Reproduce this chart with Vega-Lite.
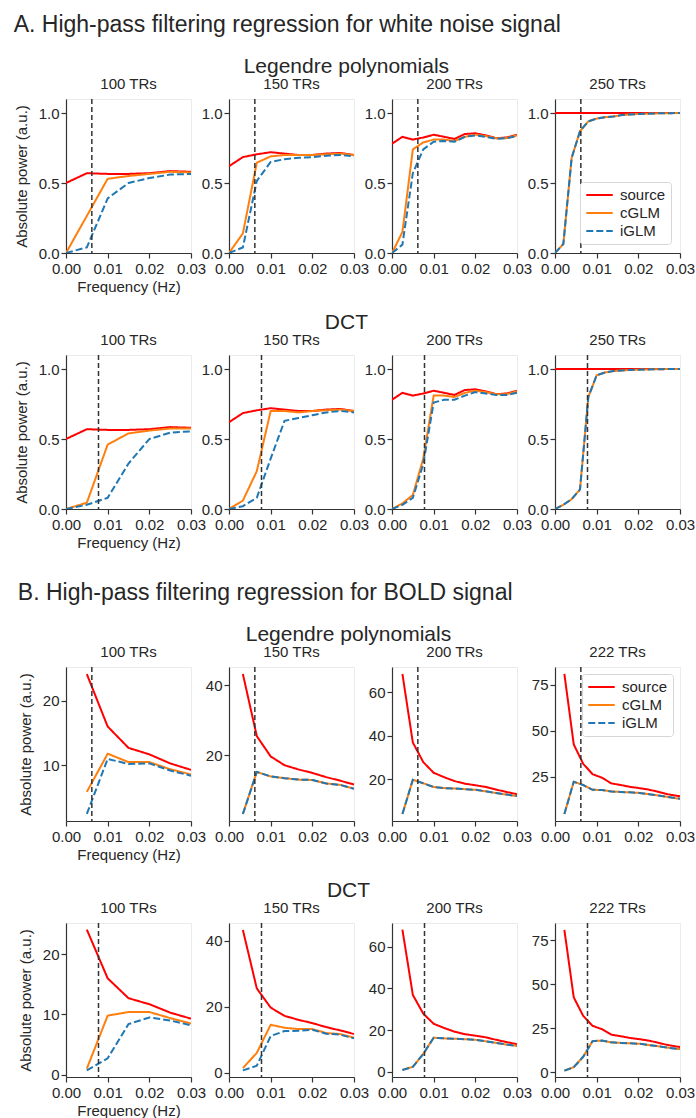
{
"$schema":"https://vega.github.io/schema/vega-lite/v6.json",
"padding":{"left":13,"top":13,"right":2,"bottom":0},
"background":"white",
"data":{"name":"pts"},
"datasets":{
"cut":[{"b":"L","c":0.0062},{"b":"D","c":0.0078}],
"pts":[
{"p":"a1","s":"source","f":0,"v":0.5},{"p":"a1","s":"source","f":0.005,"v":0.57},{"p":"a1","s":"source","f":0.01,"v":0.565},{"p":"a1","s":"source","f":0.015,"v":0.565},{"p":"a1","s":"source","f":0.02,"v":0.57},{"p":"a1","s":"source","f":0.025,"v":0.585},{"p":"a1","s":"source","f":0.03,"v":0.58},
{"p":"a1","s":"cGLM","f":0,"v":0},{"p":"a1","s":"cGLM","f":0.005,"v":0.265},{"p":"a1","s":"cGLM","f":0.01,"v":0.53},{"p":"a1","s":"cGLM","f":0.015,"v":0.55},{"p":"a1","s":"cGLM","f":0.02,"v":0.565},{"p":"a1","s":"cGLM","f":0.025,"v":0.58},{"p":"a1","s":"cGLM","f":0.03,"v":0.575},
{"p":"a1","s":"iGLM","f":0,"v":0},{"p":"a1","s":"iGLM","f":0.005,"v":0.04},{"p":"a1","s":"iGLM","f":0.01,"v":0.39},{"p":"a1","s":"iGLM","f":0.015,"v":0.5},{"p":"a1","s":"iGLM","f":0.02,"v":0.535},{"p":"a1","s":"iGLM","f":0.025,"v":0.56},{"p":"a1","s":"iGLM","f":0.03,"v":0.565},

{"p":"a2","s":"source","f":0,"v":0.62},{"p":"a2","s":"source","f":0.00333,"v":0.685},{"p":"a2","s":"source","f":0.00667,"v":0.705},{"p":"a2","s":"source","f":0.01,"v":0.72},{"p":"a2","s":"source","f":0.01333,"v":0.71},{"p":"a2","s":"source","f":0.01667,"v":0.7},{"p":"a2","s":"source","f":0.02,"v":0.7},{"p":"a2","s":"source","f":0.02333,"v":0.71},{"p":"a2","s":"source","f":0.02667,"v":0.715},{"p":"a2","s":"source","f":0.03,"v":0.7},
{"p":"a2","s":"cGLM","f":0,"v":0},{"p":"a2","s":"cGLM","f":0.00333,"v":0.14},{"p":"a2","s":"cGLM","f":0.00667,"v":0.645},{"p":"a2","s":"cGLM","f":0.01,"v":0.69},{"p":"a2","s":"cGLM","f":0.01333,"v":0.7},{"p":"a2","s":"cGLM","f":0.01667,"v":0.7},{"p":"a2","s":"cGLM","f":0.02,"v":0.7},{"p":"a2","s":"cGLM","f":0.02333,"v":0.705},{"p":"a2","s":"cGLM","f":0.02667,"v":0.71},{"p":"a2","s":"cGLM","f":0.03,"v":0.7},
{"p":"a2","s":"iGLM","f":0,"v":0},{"p":"a2","s":"iGLM","f":0.00333,"v":0.04},{"p":"a2","s":"iGLM","f":0.00667,"v":0.515},{"p":"a2","s":"iGLM","f":0.01,"v":0.65},{"p":"a2","s":"iGLM","f":0.01333,"v":0.67},{"p":"a2","s":"iGLM","f":0.01667,"v":0.68},{"p":"a2","s":"iGLM","f":0.02,"v":0.685},{"p":"a2","s":"iGLM","f":0.02333,"v":0.695},{"p":"a2","s":"iGLM","f":0.02667,"v":0.7},{"p":"a2","s":"iGLM","f":0.03,"v":0.69},

{"p":"a3","s":"source","f":0,"v":0.78},{"p":"a3","s":"source","f":0.0025,"v":0.83},{"p":"a3","s":"source","f":0.005,"v":0.81},{"p":"a3","s":"source","f":0.0075,"v":0.825},{"p":"a3","s":"source","f":0.01,"v":0.845},{"p":"a3","s":"source","f":0.0125,"v":0.83},{"p":"a3","s":"source","f":0.015,"v":0.815},{"p":"a3","s":"source","f":0.0175,"v":0.85},{"p":"a3","s":"source","f":0.02,"v":0.855},{"p":"a3","s":"source","f":0.0225,"v":0.84},{"p":"a3","s":"source","f":0.025,"v":0.82},{"p":"a3","s":"source","f":0.0275,"v":0.825},{"p":"a3","s":"source","f":0.03,"v":0.845},
{"p":"a3","s":"cGLM","f":0,"v":0},{"p":"a3","s":"cGLM","f":0.0025,"v":0.15},{"p":"a3","s":"cGLM","f":0.005,"v":0.74},{"p":"a3","s":"cGLM","f":0.0075,"v":0.79},{"p":"a3","s":"cGLM","f":0.01,"v":0.81},{"p":"a3","s":"cGLM","f":0.0125,"v":0.81},{"p":"a3","s":"cGLM","f":0.015,"v":0.8},{"p":"a3","s":"cGLM","f":0.0175,"v":0.83},{"p":"a3","s":"cGLM","f":0.02,"v":0.845},{"p":"a3","s":"cGLM","f":0.0225,"v":0.835},{"p":"a3","s":"cGLM","f":0.025,"v":0.82},{"p":"a3","s":"cGLM","f":0.0275,"v":0.82},{"p":"a3","s":"cGLM","f":0.03,"v":0.84},
{"p":"a3","s":"iGLM","f":0,"v":0},{"p":"a3","s":"iGLM","f":0.0025,"v":0.06},{"p":"a3","s":"iGLM","f":0.005,"v":0.57},{"p":"a3","s":"iGLM","f":0.0075,"v":0.74},{"p":"a3","s":"iGLM","f":0.01,"v":0.795},{"p":"a3","s":"iGLM","f":0.0125,"v":0.8},{"p":"a3","s":"iGLM","f":0.015,"v":0.795},{"p":"a3","s":"iGLM","f":0.0175,"v":0.83},{"p":"a3","s":"iGLM","f":0.02,"v":0.84},{"p":"a3","s":"iGLM","f":0.0225,"v":0.83},{"p":"a3","s":"iGLM","f":0.025,"v":0.815},{"p":"a3","s":"iGLM","f":0.0275,"v":0.82},{"p":"a3","s":"iGLM","f":0.03,"v":0.835},

{"p":"a4","s":"source","f":0,"v":1},{"p":"a4","s":"source","f":0.002,"v":1},{"p":"a4","s":"source","f":0.004,"v":1},{"p":"a4","s":"source","f":0.006,"v":1},{"p":"a4","s":"source","f":0.008,"v":1},{"p":"a4","s":"source","f":0.01,"v":1},{"p":"a4","s":"source","f":0.012,"v":1},{"p":"a4","s":"source","f":0.014,"v":1},{"p":"a4","s":"source","f":0.016,"v":1},{"p":"a4","s":"source","f":0.018,"v":1},{"p":"a4","s":"source","f":0.02,"v":1},{"p":"a4","s":"source","f":0.022,"v":1},{"p":"a4","s":"source","f":0.024,"v":1},{"p":"a4","s":"source","f":0.026,"v":1},{"p":"a4","s":"source","f":0.028,"v":1},{"p":"a4","s":"source","f":0.03,"v":1},
{"p":"a4","s":"cGLM","f":0,"v":0},{"p":"a4","s":"cGLM","f":0.002,"v":0.064},{"p":"a4","s":"cGLM","f":0.004,"v":0.68},{"p":"a4","s":"cGLM","f":0.006,"v":0.87},{"p":"a4","s":"cGLM","f":0.008,"v":0.94},{"p":"a4","s":"cGLM","f":0.01,"v":0.96},{"p":"a4","s":"cGLM","f":0.012,"v":0.97},{"p":"a4","s":"cGLM","f":0.014,"v":0.975},{"p":"a4","s":"cGLM","f":0.016,"v":0.985},{"p":"a4","s":"cGLM","f":0.018,"v":0.99},{"p":"a4","s":"cGLM","f":0.02,"v":0.993},{"p":"a4","s":"cGLM","f":0.022,"v":0.995},{"p":"a4","s":"cGLM","f":0.024,"v":0.997},{"p":"a4","s":"cGLM","f":0.026,"v":0.998},{"p":"a4","s":"cGLM","f":0.028,"v":0.999},{"p":"a4","s":"cGLM","f":0.03,"v":1},
{"p":"a4","s":"iGLM","f":0,"v":0},{"p":"a4","s":"iGLM","f":0.002,"v":0.064},{"p":"a4","s":"iGLM","f":0.004,"v":0.68},{"p":"a4","s":"iGLM","f":0.006,"v":0.87},{"p":"a4","s":"iGLM","f":0.008,"v":0.94},{"p":"a4","s":"iGLM","f":0.01,"v":0.96},{"p":"a4","s":"iGLM","f":0.012,"v":0.97},{"p":"a4","s":"iGLM","f":0.014,"v":0.975},{"p":"a4","s":"iGLM","f":0.016,"v":0.985},{"p":"a4","s":"iGLM","f":0.018,"v":0.99},{"p":"a4","s":"iGLM","f":0.02,"v":0.993},{"p":"a4","s":"iGLM","f":0.022,"v":0.995},{"p":"a4","s":"iGLM","f":0.024,"v":0.997},{"p":"a4","s":"iGLM","f":0.026,"v":0.998},{"p":"a4","s":"iGLM","f":0.028,"v":0.999},{"p":"a4","s":"iGLM","f":0.03,"v":1},

{"p":"b1","s":"source","f":0,"v":0.5},{"p":"b1","s":"source","f":0.005,"v":0.57},{"p":"b1","s":"source","f":0.01,"v":0.565},{"p":"b1","s":"source","f":0.015,"v":0.565},{"p":"b1","s":"source","f":0.02,"v":0.57},{"p":"b1","s":"source","f":0.025,"v":0.585},{"p":"b1","s":"source","f":0.03,"v":0.58},
{"p":"b1","s":"cGLM","f":0,"v":0},{"p":"b1","s":"cGLM","f":0.005,"v":0.045},{"p":"b1","s":"cGLM","f":0.01,"v":0.46},{"p":"b1","s":"cGLM","f":0.015,"v":0.54},{"p":"b1","s":"cGLM","f":0.02,"v":0.56},{"p":"b1","s":"cGLM","f":0.025,"v":0.575},{"p":"b1","s":"cGLM","f":0.03,"v":0.575},
{"p":"b1","s":"iGLM","f":0,"v":0},{"p":"b1","s":"iGLM","f":0.005,"v":0.03},{"p":"b1","s":"iGLM","f":0.01,"v":0.08},{"p":"b1","s":"iGLM","f":0.015,"v":0.325},{"p":"b1","s":"iGLM","f":0.02,"v":0.5},{"p":"b1","s":"iGLM","f":0.025,"v":0.545},{"p":"b1","s":"iGLM","f":0.03,"v":0.555},

{"p":"b2","s":"source","f":0,"v":0.62},{"p":"b2","s":"source","f":0.00333,"v":0.685},{"p":"b2","s":"source","f":0.00667,"v":0.705},{"p":"b2","s":"source","f":0.01,"v":0.72},{"p":"b2","s":"source","f":0.01333,"v":0.71},{"p":"b2","s":"source","f":0.01667,"v":0.7},{"p":"b2","s":"source","f":0.02,"v":0.7},{"p":"b2","s":"source","f":0.02333,"v":0.71},{"p":"b2","s":"source","f":0.02667,"v":0.715},{"p":"b2","s":"source","f":0.03,"v":0.7},
{"p":"b2","s":"cGLM","f":0,"v":0},{"p":"b2","s":"cGLM","f":0.00333,"v":0.06},{"p":"b2","s":"cGLM","f":0.00667,"v":0.27},{"p":"b2","s":"cGLM","f":0.01,"v":0.7},{"p":"b2","s":"cGLM","f":0.01333,"v":0.7},{"p":"b2","s":"cGLM","f":0.01667,"v":0.69},{"p":"b2","s":"cGLM","f":0.02,"v":0.7},{"p":"b2","s":"cGLM","f":0.02333,"v":0.705},{"p":"b2","s":"cGLM","f":0.02667,"v":0.71},{"p":"b2","s":"cGLM","f":0.03,"v":0.7},
{"p":"b2","s":"iGLM","f":0,"v":0},{"p":"b2","s":"iGLM","f":0.00333,"v":0.02},{"p":"b2","s":"iGLM","f":0.00667,"v":0.08},{"p":"b2","s":"iGLM","f":0.01,"v":0.36},{"p":"b2","s":"iGLM","f":0.01333,"v":0.63},{"p":"b2","s":"iGLM","f":0.01667,"v":0.65},{"p":"b2","s":"iGLM","f":0.02,"v":0.67},{"p":"b2","s":"iGLM","f":0.02333,"v":0.69},{"p":"b2","s":"iGLM","f":0.02667,"v":0.7},{"p":"b2","s":"iGLM","f":0.03,"v":0.69},

{"p":"b3","s":"source","f":0,"v":0.78},{"p":"b3","s":"source","f":0.0025,"v":0.83},{"p":"b3","s":"source","f":0.005,"v":0.81},{"p":"b3","s":"source","f":0.0075,"v":0.825},{"p":"b3","s":"source","f":0.01,"v":0.845},{"p":"b3","s":"source","f":0.0125,"v":0.83},{"p":"b3","s":"source","f":0.015,"v":0.815},{"p":"b3","s":"source","f":0.0175,"v":0.85},{"p":"b3","s":"source","f":0.02,"v":0.855},{"p":"b3","s":"source","f":0.0225,"v":0.84},{"p":"b3","s":"source","f":0.025,"v":0.82},{"p":"b3","s":"source","f":0.0275,"v":0.825},{"p":"b3","s":"source","f":0.03,"v":0.845},
{"p":"b3","s":"cGLM","f":0,"v":0},{"p":"b3","s":"cGLM","f":0.0025,"v":0.04},{"p":"b3","s":"cGLM","f":0.005,"v":0.1},{"p":"b3","s":"cGLM","f":0.0075,"v":0.36},{"p":"b3","s":"cGLM","f":0.01,"v":0.81},{"p":"b3","s":"cGLM","f":0.0125,"v":0.81},{"p":"b3","s":"cGLM","f":0.015,"v":0.8},{"p":"b3","s":"cGLM","f":0.0175,"v":0.83},{"p":"b3","s":"cGLM","f":0.02,"v":0.845},{"p":"b3","s":"cGLM","f":0.0225,"v":0.835},{"p":"b3","s":"cGLM","f":0.025,"v":0.82},{"p":"b3","s":"cGLM","f":0.0275,"v":0.82},{"p":"b3","s":"cGLM","f":0.03,"v":0.84},
{"p":"b3","s":"iGLM","f":0,"v":0},{"p":"b3","s":"iGLM","f":0.0025,"v":0.03},{"p":"b3","s":"iGLM","f":0.005,"v":0.08},{"p":"b3","s":"iGLM","f":0.0075,"v":0.32},{"p":"b3","s":"iGLM","f":0.01,"v":0.76},{"p":"b3","s":"iGLM","f":0.0125,"v":0.78},{"p":"b3","s":"iGLM","f":0.015,"v":0.78},{"p":"b3","s":"iGLM","f":0.0175,"v":0.81},{"p":"b3","s":"iGLM","f":0.02,"v":0.835},{"p":"b3","s":"iGLM","f":0.0225,"v":0.825},{"p":"b3","s":"iGLM","f":0.025,"v":0.815},{"p":"b3","s":"iGLM","f":0.0275,"v":0.815},{"p":"b3","s":"iGLM","f":0.03,"v":0.83},

{"p":"b4","s":"source","f":0,"v":1},{"p":"b4","s":"source","f":0.002,"v":1},{"p":"b4","s":"source","f":0.004,"v":1},{"p":"b4","s":"source","f":0.006,"v":1},{"p":"b4","s":"source","f":0.008,"v":1},{"p":"b4","s":"source","f":0.01,"v":1},{"p":"b4","s":"source","f":0.012,"v":1},{"p":"b4","s":"source","f":0.014,"v":1},{"p":"b4","s":"source","f":0.016,"v":1},{"p":"b4","s":"source","f":0.018,"v":1},{"p":"b4","s":"source","f":0.02,"v":1},{"p":"b4","s":"source","f":0.022,"v":1},{"p":"b4","s":"source","f":0.024,"v":1},{"p":"b4","s":"source","f":0.026,"v":1},{"p":"b4","s":"source","f":0.028,"v":1},{"p":"b4","s":"source","f":0.03,"v":1},
{"p":"b4","s":"cGLM","f":0,"v":0},{"p":"b4","s":"cGLM","f":0.002,"v":0.03},{"p":"b4","s":"cGLM","f":0.004,"v":0.07},{"p":"b4","s":"cGLM","f":0.006,"v":0.14},{"p":"b4","s":"cGLM","f":0.008,"v":0.8},{"p":"b4","s":"cGLM","f":0.01,"v":0.955},{"p":"b4","s":"cGLM","f":0.012,"v":0.975},{"p":"b4","s":"cGLM","f":0.014,"v":0.985},{"p":"b4","s":"cGLM","f":0.016,"v":0.99},{"p":"b4","s":"cGLM","f":0.018,"v":0.993},{"p":"b4","s":"cGLM","f":0.02,"v":0.995},{"p":"b4","s":"cGLM","f":0.022,"v":0.997},{"p":"b4","s":"cGLM","f":0.024,"v":0.998},{"p":"b4","s":"cGLM","f":0.026,"v":0.999},{"p":"b4","s":"cGLM","f":0.028,"v":1},{"p":"b4","s":"cGLM","f":0.03,"v":1},
{"p":"b4","s":"iGLM","f":0,"v":0},{"p":"b4","s":"iGLM","f":0.002,"v":0.03},{"p":"b4","s":"iGLM","f":0.004,"v":0.07},{"p":"b4","s":"iGLM","f":0.006,"v":0.14},{"p":"b4","s":"iGLM","f":0.008,"v":0.8},{"p":"b4","s":"iGLM","f":0.01,"v":0.955},{"p":"b4","s":"iGLM","f":0.012,"v":0.975},{"p":"b4","s":"iGLM","f":0.014,"v":0.985},{"p":"b4","s":"iGLM","f":0.016,"v":0.99},{"p":"b4","s":"iGLM","f":0.018,"v":0.993},{"p":"b4","s":"iGLM","f":0.02,"v":0.995},{"p":"b4","s":"iGLM","f":0.022,"v":0.997},{"p":"b4","s":"iGLM","f":0.024,"v":0.998},{"p":"b4","s":"iGLM","f":0.026,"v":0.999},{"p":"b4","s":"iGLM","f":0.028,"v":1},{"p":"b4","s":"iGLM","f":0.03,"v":1},

{"p":"c1","s":"source","f":0.005,"v":24.1},{"p":"c1","s":"source","f":0.01,"v":16},{"p":"c1","s":"source","f":0.015,"v":12.7},{"p":"c1","s":"source","f":0.02,"v":11.7},{"p":"c1","s":"source","f":0.025,"v":10.3},{"p":"c1","s":"source","f":0.03,"v":9.3},
{"p":"c1","s":"cGLM","f":0.005,"v":5.9},{"p":"c1","s":"cGLM","f":0.01,"v":11.8},{"p":"c1","s":"cGLM","f":0.015,"v":10.5},{"p":"c1","s":"cGLM","f":0.02,"v":10.5},{"p":"c1","s":"cGLM","f":0.025,"v":9.4},{"p":"c1","s":"cGLM","f":0.03,"v":8.6},
{"p":"c1","s":"iGLM","f":0.005,"v":2.5},{"p":"c1","s":"iGLM","f":0.01,"v":11},{"p":"c1","s":"iGLM","f":0.015,"v":10.2},{"p":"c1","s":"iGLM","f":0.02,"v":10.3},{"p":"c1","s":"iGLM","f":0.025,"v":9.2},{"p":"c1","s":"iGLM","f":0.03,"v":8.4},

{"p":"c2","s":"source","f":0.00333,"v":43.2},{"p":"c2","s":"source","f":0.00667,"v":25.5},{"p":"c2","s":"source","f":0.01,"v":19.7},{"p":"c2","s":"source","f":0.01333,"v":17.2},{"p":"c2","s":"source","f":0.01667,"v":16},{"p":"c2","s":"source","f":0.02,"v":15},{"p":"c2","s":"source","f":0.02333,"v":13.8},{"p":"c2","s":"source","f":0.02667,"v":12.8},{"p":"c2","s":"source","f":0.03,"v":11.7},
{"p":"c2","s":"cGLM","f":0.00333,"v":3.3},{"p":"c2","s":"cGLM","f":0.00667,"v":15.3},{"p":"c2","s":"cGLM","f":0.01,"v":14},{"p":"c2","s":"cGLM","f":0.01333,"v":13.5},{"p":"c2","s":"cGLM","f":0.01667,"v":13.1},{"p":"c2","s":"cGLM","f":0.02,"v":13},{"p":"c2","s":"cGLM","f":0.02333,"v":12},{"p":"c2","s":"cGLM","f":0.02667,"v":11.6},{"p":"c2","s":"cGLM","f":0.03,"v":10.5},
{"p":"c2","s":"iGLM","f":0.00333,"v":3.3},{"p":"c2","s":"iGLM","f":0.00667,"v":15.3},{"p":"c2","s":"iGLM","f":0.01,"v":14},{"p":"c2","s":"iGLM","f":0.01333,"v":13.5},{"p":"c2","s":"iGLM","f":0.01667,"v":13.1},{"p":"c2","s":"iGLM","f":0.02,"v":13},{"p":"c2","s":"iGLM","f":0.02333,"v":12},{"p":"c2","s":"iGLM","f":0.02667,"v":11.6},{"p":"c2","s":"iGLM","f":0.03,"v":10.5},

{"p":"c3","s":"source","f":0.0025,"v":68.3},{"p":"c3","s":"source","f":0.005,"v":36.9},{"p":"c3","s":"source","f":0.0075,"v":27.9},{"p":"c3","s":"source","f":0.01,"v":23},{"p":"c3","s":"source","f":0.0125,"v":21},{"p":"c3","s":"source","f":0.015,"v":19.2},{"p":"c3","s":"source","f":0.0175,"v":18},{"p":"c3","s":"source","f":0.02,"v":17.3},{"p":"c3","s":"source","f":0.0225,"v":16.5},{"p":"c3","s":"source","f":0.025,"v":15.3},{"p":"c3","s":"source","f":0.0275,"v":14.2},{"p":"c3","s":"source","f":0.03,"v":13.2},
{"p":"c3","s":"cGLM","f":0.0025,"v":4.1},{"p":"c3","s":"cGLM","f":0.005,"v":19.8},{"p":"c3","s":"cGLM","f":0.0075,"v":18.2},{"p":"c3","s":"cGLM","f":0.01,"v":16.5},{"p":"c3","s":"cGLM","f":0.0125,"v":16},{"p":"c3","s":"cGLM","f":0.015,"v":15.8},{"p":"c3","s":"cGLM","f":0.0175,"v":15.5},{"p":"c3","s":"cGLM","f":0.02,"v":15.2},{"p":"c3","s":"cGLM","f":0.0225,"v":14.5},{"p":"c3","s":"cGLM","f":0.025,"v":13.7},{"p":"c3","s":"cGLM","f":0.0275,"v":13},{"p":"c3","s":"cGLM","f":0.03,"v":12.3},
{"p":"c3","s":"iGLM","f":0.0025,"v":4.1},{"p":"c3","s":"iGLM","f":0.005,"v":19.8},{"p":"c3","s":"iGLM","f":0.0075,"v":18.2},{"p":"c3","s":"iGLM","f":0.01,"v":16.5},{"p":"c3","s":"iGLM","f":0.0125,"v":16},{"p":"c3","s":"iGLM","f":0.015,"v":15.8},{"p":"c3","s":"iGLM","f":0.0175,"v":15.5},{"p":"c3","s":"iGLM","f":0.02,"v":15.2},{"p":"c3","s":"iGLM","f":0.0225,"v":14.5},{"p":"c3","s":"iGLM","f":0.025,"v":13.7},{"p":"c3","s":"iGLM","f":0.0275,"v":13},{"p":"c3","s":"iGLM","f":0.03,"v":12.3},

{"p":"c4","s":"source","f":0.00225,"v":81},{"p":"c4","s":"source","f":0.0045,"v":42.6},{"p":"c4","s":"source","f":0.00676,"v":32.1},{"p":"c4","s":"source","f":0.00901,"v":26.4},{"p":"c4","s":"source","f":0.01126,"v":24.5},{"p":"c4","s":"source","f":0.01351,"v":21.4},{"p":"c4","s":"source","f":0.01577,"v":20.5},{"p":"c4","s":"source","f":0.01802,"v":19.5},{"p":"c4","s":"source","f":0.02027,"v":18.8},{"p":"c4","s":"source","f":0.02252,"v":18},{"p":"c4","s":"source","f":0.02477,"v":16.8},{"p":"c4","s":"source","f":0.02703,"v":15.5},{"p":"c4","s":"source","f":0.02928,"v":14.6},{"p":"c4","s":"source","f":0.03153,"v":14},
{"p":"c4","s":"cGLM","f":0.00225,"v":4.7},{"p":"c4","s":"cGLM","f":0.0045,"v":22.3},{"p":"c4","s":"cGLM","f":0.00676,"v":20.5},{"p":"c4","s":"cGLM","f":0.00901,"v":17.9},{"p":"c4","s":"cGLM","f":0.01126,"v":17.8},{"p":"c4","s":"cGLM","f":0.01351,"v":17},{"p":"c4","s":"cGLM","f":0.01577,"v":16.7},{"p":"c4","s":"cGLM","f":0.01802,"v":16.5},{"p":"c4","s":"cGLM","f":0.02027,"v":16.2},{"p":"c4","s":"cGLM","f":0.02252,"v":15.5},{"p":"c4","s":"cGLM","f":0.02477,"v":14.8},{"p":"c4","s":"cGLM","f":0.02703,"v":14},{"p":"c4","s":"cGLM","f":0.02928,"v":13.2},{"p":"c4","s":"cGLM","f":0.03153,"v":12.8},
{"p":"c4","s":"iGLM","f":0.00225,"v":4.7},{"p":"c4","s":"iGLM","f":0.0045,"v":22.3},{"p":"c4","s":"iGLM","f":0.00676,"v":20.5},{"p":"c4","s":"iGLM","f":0.00901,"v":17.9},{"p":"c4","s":"iGLM","f":0.01126,"v":17.8},{"p":"c4","s":"iGLM","f":0.01351,"v":17},{"p":"c4","s":"iGLM","f":0.01577,"v":16.7},{"p":"c4","s":"iGLM","f":0.01802,"v":16.5},{"p":"c4","s":"iGLM","f":0.02027,"v":16.2},{"p":"c4","s":"iGLM","f":0.02252,"v":15.5},{"p":"c4","s":"iGLM","f":0.02477,"v":14.8},{"p":"c4","s":"iGLM","f":0.02703,"v":14},{"p":"c4","s":"iGLM","f":0.02928,"v":13.2},{"p":"c4","s":"iGLM","f":0.03153,"v":12.8},

{"p":"d1","s":"source","f":0.005,"v":24.1},{"p":"d1","s":"source","f":0.01,"v":16},{"p":"d1","s":"source","f":0.015,"v":12.7},{"p":"d1","s":"source","f":0.02,"v":11.7},{"p":"d1","s":"source","f":0.025,"v":10.3},{"p":"d1","s":"source","f":0.03,"v":9.3},
{"p":"d1","s":"cGLM","f":0.005,"v":1},{"p":"d1","s":"cGLM","f":0.01,"v":9.8},{"p":"d1","s":"cGLM","f":0.015,"v":10.4},{"p":"d1","s":"cGLM","f":0.02,"v":10.4},{"p":"d1","s":"cGLM","f":0.025,"v":9.4},{"p":"d1","s":"cGLM","f":0.03,"v":8.5},
{"p":"d1","s":"iGLM","f":0.005,"v":0.7},{"p":"d1","s":"iGLM","f":0.01,"v":2.7},{"p":"d1","s":"iGLM","f":0.015,"v":8.4},{"p":"d1","s":"iGLM","f":0.02,"v":9.5},{"p":"d1","s":"iGLM","f":0.025,"v":9},{"p":"d1","s":"iGLM","f":0.03,"v":8.2},

{"p":"d2","s":"source","f":0.00333,"v":43.2},{"p":"d2","s":"source","f":0.00667,"v":25.5},{"p":"d2","s":"source","f":0.01,"v":19.7},{"p":"d2","s":"source","f":0.01333,"v":17.2},{"p":"d2","s":"source","f":0.01667,"v":16},{"p":"d2","s":"source","f":0.02,"v":15},{"p":"d2","s":"source","f":0.02333,"v":13.8},{"p":"d2","s":"source","f":0.02667,"v":12.8},{"p":"d2","s":"source","f":0.03,"v":11.7},
{"p":"d2","s":"cGLM","f":0.00333,"v":1.4},{"p":"d2","s":"cGLM","f":0.00667,"v":6},{"p":"d2","s":"cGLM","f":0.01,"v":14.5},{"p":"d2","s":"cGLM","f":0.01333,"v":13.6},{"p":"d2","s":"cGLM","f":0.01667,"v":13.2},{"p":"d2","s":"cGLM","f":0.02,"v":13.2},{"p":"d2","s":"cGLM","f":0.02333,"v":12},{"p":"d2","s":"cGLM","f":0.02667,"v":11.7},{"p":"d2","s":"cGLM","f":0.03,"v":10.6},
{"p":"d2","s":"iGLM","f":0.00333,"v":0.7},{"p":"d2","s":"iGLM","f":0.00667,"v":2.1},{"p":"d2","s":"iGLM","f":0.01,"v":11.1},{"p":"d2","s":"iGLM","f":0.01333,"v":12.6},{"p":"d2","s":"iGLM","f":0.01667,"v":12.7},{"p":"d2","s":"iGLM","f":0.02,"v":13},{"p":"d2","s":"iGLM","f":0.02333,"v":11.8},{"p":"d2","s":"iGLM","f":0.02667,"v":11.5},{"p":"d2","s":"iGLM","f":0.03,"v":10.4},

{"p":"d3","s":"source","f":0.0025,"v":68.3},{"p":"d3","s":"source","f":0.005,"v":36.9},{"p":"d3","s":"source","f":0.0075,"v":27.9},{"p":"d3","s":"source","f":0.01,"v":23},{"p":"d3","s":"source","f":0.0125,"v":21},{"p":"d3","s":"source","f":0.015,"v":19.2},{"p":"d3","s":"source","f":0.0175,"v":18},{"p":"d3","s":"source","f":0.02,"v":17.3},{"p":"d3","s":"source","f":0.0225,"v":16.5},{"p":"d3","s":"source","f":0.025,"v":15.3},{"p":"d3","s":"source","f":0.0275,"v":14.2},{"p":"d3","s":"source","f":0.03,"v":13.2},
{"p":"d3","s":"cGLM","f":0.0025,"v":0.8},{"p":"d3","s":"cGLM","f":0.005,"v":2.3},{"p":"d3","s":"cGLM","f":0.0075,"v":8.5},{"p":"d3","s":"cGLM","f":0.01,"v":16.3},{"p":"d3","s":"cGLM","f":0.0125,"v":16},{"p":"d3","s":"cGLM","f":0.015,"v":15.8},{"p":"d3","s":"cGLM","f":0.0175,"v":15.6},{"p":"d3","s":"cGLM","f":0.02,"v":15.3},{"p":"d3","s":"cGLM","f":0.0225,"v":14.6},{"p":"d3","s":"cGLM","f":0.025,"v":13.8},{"p":"d3","s":"cGLM","f":0.0275,"v":13},{"p":"d3","s":"cGLM","f":0.03,"v":12.4},
{"p":"d3","s":"iGLM","f":0.0025,"v":0.8},{"p":"d3","s":"iGLM","f":0.005,"v":2.3},{"p":"d3","s":"iGLM","f":0.0075,"v":8.5},{"p":"d3","s":"iGLM","f":0.01,"v":16.3},{"p":"d3","s":"iGLM","f":0.0125,"v":16},{"p":"d3","s":"iGLM","f":0.015,"v":15.8},{"p":"d3","s":"iGLM","f":0.0175,"v":15.6},{"p":"d3","s":"iGLM","f":0.02,"v":15.3},{"p":"d3","s":"iGLM","f":0.0225,"v":14.6},{"p":"d3","s":"iGLM","f":0.025,"v":13.8},{"p":"d3","s":"iGLM","f":0.0275,"v":13},{"p":"d3","s":"iGLM","f":0.03,"v":12.4},

{"p":"d4","s":"source","f":0.00225,"v":81},{"p":"d4","s":"source","f":0.0045,"v":42.6},{"p":"d4","s":"source","f":0.00676,"v":32.1},{"p":"d4","s":"source","f":0.00901,"v":26.4},{"p":"d4","s":"source","f":0.01126,"v":24.5},{"p":"d4","s":"source","f":0.01351,"v":21.4},{"p":"d4","s":"source","f":0.01577,"v":20.5},{"p":"d4","s":"source","f":0.01802,"v":19.5},{"p":"d4","s":"source","f":0.02027,"v":18.8},{"p":"d4","s":"source","f":0.02252,"v":18},{"p":"d4","s":"source","f":0.02477,"v":16.8},{"p":"d4","s":"source","f":0.02703,"v":15.5},{"p":"d4","s":"source","f":0.02928,"v":14.6},{"p":"d4","s":"source","f":0.03153,"v":14},
{"p":"d4","s":"cGLM","f":0.00225,"v":0.9},{"p":"d4","s":"cGLM","f":0.0045,"v":2.9},{"p":"d4","s":"cGLM","f":0.00676,"v":8.8},{"p":"d4","s":"cGLM","f":0.00901,"v":17.7},{"p":"d4","s":"cGLM","f":0.01126,"v":18},{"p":"d4","s":"cGLM","f":0.01351,"v":17},{"p":"d4","s":"cGLM","f":0.01577,"v":16.7},{"p":"d4","s":"cGLM","f":0.01802,"v":16.5},{"p":"d4","s":"cGLM","f":0.02027,"v":16.2},{"p":"d4","s":"cGLM","f":0.02252,"v":15.5},{"p":"d4","s":"cGLM","f":0.02477,"v":14.8},{"p":"d4","s":"cGLM","f":0.02703,"v":14},{"p":"d4","s":"cGLM","f":0.02928,"v":13.3},{"p":"d4","s":"cGLM","f":0.03153,"v":12.9},
{"p":"d4","s":"iGLM","f":0.00225,"v":0.9},{"p":"d4","s":"iGLM","f":0.0045,"v":2.9},{"p":"d4","s":"iGLM","f":0.00676,"v":8.8},{"p":"d4","s":"iGLM","f":0.00901,"v":17.7},{"p":"d4","s":"iGLM","f":0.01126,"v":18},{"p":"d4","s":"iGLM","f":0.01351,"v":17},{"p":"d4","s":"iGLM","f":0.01577,"v":16.7},{"p":"d4","s":"iGLM","f":0.01802,"v":16.5},{"p":"d4","s":"iGLM","f":0.02027,"v":16.2},{"p":"d4","s":"iGLM","f":0.02252,"v":15.5},{"p":"d4","s":"iGLM","f":0.02477,"v":14.8},{"p":"d4","s":"iGLM","f":0.02703,"v":14},{"p":"d4","s":"iGLM","f":0.02928,"v":13.3},{"p":"d4","s":"iGLM","f":0.03153,"v":12.9}
]},
"spacing":30,
"resolve":{"scale":{"color":"independent","strokeDash":"independent"}},
"vconcat":[
{"title":{"text":"A. High-pass filtering regression for white noise signal","anchor":"start","fontSize":23,"offset":19},
 "spacing":16,
 "resolve":{"scale":{"color":"independent","strokeDash":"independent"}},
 "vconcat":[
 {"title":{"text":"Legendre polynomials","anchor":"middle","fontSize":21,"offset":0,"dx":-8},"spacing":38,"bounds":"flush",
  "resolve":{"scale":{"color":"independent","strokeDash":"independent"}},
  "hconcat":[
   {"width":125,"height":154,"title":"100 TRs","layer":[
    {"transform":[{"filter":"datum.p==='a1'"}],"mark":{"type":"line","strokeWidth":2,"clip":true},"encoding":{
     "x":{"field":"f","type":"quantitative","scale":{"domain":[0,0.03],"nice":false},"axis":{"values":[0,0.01,0.02,0.03],"format":".2f","title":"Frequency (Hz)"}},
     "y":{"field":"v","type":"quantitative","scale":{"domain":[0,1.1],"nice":false,"zero":false},"axis":{"values":[0,0.5,1],"format":".1f","title":"Absolute power (a.u.)"}},
     "color":{"field":"s","type":"nominal","scale":{"domain":["source","cGLM","iGLM"],"range":["#ff0000","#ff7f0e","#1f77b4"]},"legend":null},
     "strokeDash":{"field":"s","type":"nominal","scale":{"domain":["source","cGLM","iGLM"],"range":[[1,0],[1,0],[7,3]]},"legend":null}}},
    {"data":{"name":"cut"},"transform":[{"filter":"datum.b==='L'"}],"mark":{"type":"rule","color":"#333333","strokeWidth":1.5,"strokeDash":[5,3]},"encoding":{"x":{"field":"c","type":"quantitative"}}}]},
   {"width":125,"height":154,"title":"150 TRs","layer":[
    {"transform":[{"filter":"datum.p==='a2'"}],"mark":{"type":"line","strokeWidth":2,"clip":true},"encoding":{
     "x":{"field":"f","type":"quantitative","scale":{"domain":[0,0.03],"nice":false},"axis":{"values":[0,0.01,0.02,0.03],"format":".2f","title":null}},
     "y":{"field":"v","type":"quantitative","scale":{"domain":[0,1.1],"nice":false,"zero":false},"axis":{"values":[0,0.5,1],"format":".1f","title":null}},
     "color":{"field":"s","type":"nominal","scale":{"domain":["source","cGLM","iGLM"],"range":["#ff0000","#ff7f0e","#1f77b4"]},"legend":null},
     "strokeDash":{"field":"s","type":"nominal","scale":{"domain":["source","cGLM","iGLM"],"range":[[1,0],[1,0],[7,3]]},"legend":null}}},
    {"data":{"name":"cut"},"transform":[{"filter":"datum.b==='L'"}],"mark":{"type":"rule","color":"#333333","strokeWidth":1.5,"strokeDash":[5,3]},"encoding":{"x":{"field":"c","type":"quantitative"}}}]},
   {"width":125,"height":154,"title":"200 TRs","layer":[
    {"transform":[{"filter":"datum.p==='a3'"}],"mark":{"type":"line","strokeWidth":2,"clip":true},"encoding":{
     "x":{"field":"f","type":"quantitative","scale":{"domain":[0,0.03],"nice":false},"axis":{"values":[0,0.01,0.02,0.03],"format":".2f","title":null}},
     "y":{"field":"v","type":"quantitative","scale":{"domain":[0,1.1],"nice":false,"zero":false},"axis":{"values":[0,0.5,1],"format":".1f","title":null}},
     "color":{"field":"s","type":"nominal","scale":{"domain":["source","cGLM","iGLM"],"range":["#ff0000","#ff7f0e","#1f77b4"]},"legend":null},
     "strokeDash":{"field":"s","type":"nominal","scale":{"domain":["source","cGLM","iGLM"],"range":[[1,0],[1,0],[7,3]]},"legend":null}}},
    {"data":{"name":"cut"},"transform":[{"filter":"datum.b==='L'"}],"mark":{"type":"rule","color":"#333333","strokeWidth":1.5,"strokeDash":[5,3]},"encoding":{"x":{"field":"c","type":"quantitative"}}}]},
   {"width":125,"height":154,"title":"250 TRs","layer":[
    {"transform":[{"filter":"datum.p==='a4'"}],"mark":{"type":"line","strokeWidth":2,"clip":true},"encoding":{
     "x":{"field":"f","type":"quantitative","scale":{"domain":[0,0.03],"nice":false},"axis":{"values":[0,0.01,0.02,0.03],"format":".2f","title":null}},
     "y":{"field":"v","type":"quantitative","scale":{"domain":[0,1.1],"nice":false,"zero":false},"axis":{"values":[0,0.5,1],"format":".1f","title":null}},
     "color":{"field":"s","type":"nominal","scale":{"domain":["source","cGLM","iGLM"],"range":["#ff0000","#ff7f0e","#1f77b4"]},"legend":{"orient":"bottom-right","offset":9}},
     "strokeDash":{"field":"s","type":"nominal","scale":{"domain":["source","cGLM","iGLM"],"range":[[1,0],[1,0],[7,3]]},"legend":{"orient":"bottom-right","offset":9}}}},
    {"data":{"name":"cut"},"transform":[{"filter":"datum.b==='L'"}],"mark":{"type":"rule","color":"#333333","strokeWidth":1.5,"strokeDash":[5,3]},"encoding":{"x":{"field":"c","type":"quantitative"}}}]}
  ]},
 {"title":{"text":"DCT","anchor":"middle","fontSize":21,"offset":0,"dx":-8},"spacing":38,"bounds":"flush",
  "resolve":{"scale":{"color":"independent","strokeDash":"independent"}},
  "hconcat":[
   {"width":125,"height":154,"title":"100 TRs","layer":[
    {"transform":[{"filter":"datum.p==='b1'"}],"mark":{"type":"line","strokeWidth":2,"clip":true},"encoding":{
     "x":{"field":"f","type":"quantitative","scale":{"domain":[0,0.03],"nice":false},"axis":{"values":[0,0.01,0.02,0.03],"format":".2f","title":"Frequency (Hz)"}},
     "y":{"field":"v","type":"quantitative","scale":{"domain":[0,1.1],"nice":false,"zero":false},"axis":{"values":[0,0.5,1],"format":".1f","title":"Absolute power (a.u.)"}},
     "color":{"field":"s","type":"nominal","scale":{"domain":["source","cGLM","iGLM"],"range":["#ff0000","#ff7f0e","#1f77b4"]},"legend":null},
     "strokeDash":{"field":"s","type":"nominal","scale":{"domain":["source","cGLM","iGLM"],"range":[[1,0],[1,0],[7,3]]},"legend":null}}},
    {"data":{"name":"cut"},"transform":[{"filter":"datum.b==='D'"}],"mark":{"type":"rule","color":"#333333","strokeWidth":1.5,"strokeDash":[5,3]},"encoding":{"x":{"field":"c","type":"quantitative"}}}]},
   {"width":125,"height":154,"title":"150 TRs","layer":[
    {"transform":[{"filter":"datum.p==='b2'"}],"mark":{"type":"line","strokeWidth":2,"clip":true},"encoding":{
     "x":{"field":"f","type":"quantitative","scale":{"domain":[0,0.03],"nice":false},"axis":{"values":[0,0.01,0.02,0.03],"format":".2f","title":null}},
     "y":{"field":"v","type":"quantitative","scale":{"domain":[0,1.1],"nice":false,"zero":false},"axis":{"values":[0,0.5,1],"format":".1f","title":null}},
     "color":{"field":"s","type":"nominal","scale":{"domain":["source","cGLM","iGLM"],"range":["#ff0000","#ff7f0e","#1f77b4"]},"legend":null},
     "strokeDash":{"field":"s","type":"nominal","scale":{"domain":["source","cGLM","iGLM"],"range":[[1,0],[1,0],[7,3]]},"legend":null}}},
    {"data":{"name":"cut"},"transform":[{"filter":"datum.b==='D'"}],"mark":{"type":"rule","color":"#333333","strokeWidth":1.5,"strokeDash":[5,3]},"encoding":{"x":{"field":"c","type":"quantitative"}}}]},
   {"width":125,"height":154,"title":"200 TRs","layer":[
    {"transform":[{"filter":"datum.p==='b3'"}],"mark":{"type":"line","strokeWidth":2,"clip":true},"encoding":{
     "x":{"field":"f","type":"quantitative","scale":{"domain":[0,0.03],"nice":false},"axis":{"values":[0,0.01,0.02,0.03],"format":".2f","title":null}},
     "y":{"field":"v","type":"quantitative","scale":{"domain":[0,1.1],"nice":false,"zero":false},"axis":{"values":[0,0.5,1],"format":".1f","title":null}},
     "color":{"field":"s","type":"nominal","scale":{"domain":["source","cGLM","iGLM"],"range":["#ff0000","#ff7f0e","#1f77b4"]},"legend":null},
     "strokeDash":{"field":"s","type":"nominal","scale":{"domain":["source","cGLM","iGLM"],"range":[[1,0],[1,0],[7,3]]},"legend":null}}},
    {"data":{"name":"cut"},"transform":[{"filter":"datum.b==='D'"}],"mark":{"type":"rule","color":"#333333","strokeWidth":1.5,"strokeDash":[5,3]},"encoding":{"x":{"field":"c","type":"quantitative"}}}]},
   {"width":125,"height":154,"title":"250 TRs","layer":[
    {"transform":[{"filter":"datum.p==='b4'"}],"mark":{"type":"line","strokeWidth":2,"clip":true},"encoding":{
     "x":{"field":"f","type":"quantitative","scale":{"domain":[0,0.03],"nice":false},"axis":{"values":[0,0.01,0.02,0.03],"format":".2f","title":null}},
     "y":{"field":"v","type":"quantitative","scale":{"domain":[0,1.1],"nice":false,"zero":false},"axis":{"values":[0,0.5,1],"format":".1f","title":null}},
     "color":{"field":"s","type":"nominal","scale":{"domain":["source","cGLM","iGLM"],"range":["#ff0000","#ff7f0e","#1f77b4"]},"legend":null},
     "strokeDash":{"field":"s","type":"nominal","scale":{"domain":["source","cGLM","iGLM"],"range":[[1,0],[1,0],[7,3]]},"legend":null}}},
    {"data":{"name":"cut"},"transform":[{"filter":"datum.b==='D'"}],"mark":{"type":"rule","color":"#333333","strokeWidth":1.5,"strokeDash":[5,3]},"encoding":{"x":{"field":"c","type":"quantitative"}}}]}
  ]}
 ]},
{"title":{"text":"B. High-pass filtering regression for BOLD signal","anchor":"start","fontSize":23,"offset":19},
 "spacing":16,
 "resolve":{"scale":{"color":"independent","strokeDash":"independent"}},
 "vconcat":[
 {"title":{"text":"Legendre polynomials","anchor":"middle","fontSize":21,"offset":0,"dx":-8},"spacing":38,"bounds":"flush",
  "resolve":{"scale":{"color":"independent","strokeDash":"independent"}},
  "hconcat":[
   {"width":125,"height":154,"title":"100 TRs","layer":[
    {"transform":[{"filter":"datum.p==='c1'"}],"mark":{"type":"line","strokeWidth":2,"clip":true},"encoding":{
     "x":{"field":"f","type":"quantitative","scale":{"domain":[0,0.03],"nice":false},"axis":{"values":[0,0.01,0.02,0.03],"format":".2f","title":"Frequency (Hz)"}},
     "y":{"field":"v","type":"quantitative","scale":{"domain":[1.4,25.2],"nice":false,"zero":false},"axis":{"values":[10,20],"format":"d","title":"Absolute power (a.u.)"}},
     "color":{"field":"s","type":"nominal","scale":{"domain":["source","cGLM","iGLM"],"range":["#ff0000","#ff7f0e","#1f77b4"]},"legend":null},
     "strokeDash":{"field":"s","type":"nominal","scale":{"domain":["source","cGLM","iGLM"],"range":[[1,0],[1,0],[7,3]]},"legend":null}}},
    {"data":{"name":"cut"},"transform":[{"filter":"datum.b==='L'"}],"mark":{"type":"rule","color":"#333333","strokeWidth":1.5,"strokeDash":[5,3]},"encoding":{"x":{"field":"c","type":"quantitative"}}}]},
   {"width":125,"height":154,"title":"150 TRs","layer":[
    {"transform":[{"filter":"datum.p==='c2'"}],"mark":{"type":"line","strokeWidth":2,"clip":true},"encoding":{
     "x":{"field":"f","type":"quantitative","scale":{"domain":[0,0.03],"nice":false},"axis":{"values":[0,0.01,0.02,0.03],"format":".2f","title":null}},
     "y":{"field":"v","type":"quantitative","scale":{"domain":[1.3,45.2],"nice":false,"zero":false},"axis":{"values":[20,40],"format":"d","title":null}},
     "color":{"field":"s","type":"nominal","scale":{"domain":["source","cGLM","iGLM"],"range":["#ff0000","#ff7f0e","#1f77b4"]},"legend":null},
     "strokeDash":{"field":"s","type":"nominal","scale":{"domain":["source","cGLM","iGLM"],"range":[[1,0],[1,0],[7,3]]},"legend":null}}},
    {"data":{"name":"cut"},"transform":[{"filter":"datum.b==='L'"}],"mark":{"type":"rule","color":"#333333","strokeWidth":1.5,"strokeDash":[5,3]},"encoding":{"x":{"field":"c","type":"quantitative"}}}]},
   {"width":125,"height":154,"title":"200 TRs","layer":[
    {"transform":[{"filter":"datum.p==='c3'"}],"mark":{"type":"line","strokeWidth":2,"clip":true},"encoding":{
     "x":{"field":"f","type":"quantitative","scale":{"domain":[0,0.03],"nice":false},"axis":{"values":[0,0.01,0.02,0.03],"format":".2f","title":null}},
     "y":{"field":"v","type":"quantitative","scale":{"domain":[0.9,71.5],"nice":false,"zero":false},"axis":{"values":[20,40,60],"format":"d","title":null}},
     "color":{"field":"s","type":"nominal","scale":{"domain":["source","cGLM","iGLM"],"range":["#ff0000","#ff7f0e","#1f77b4"]},"legend":null},
     "strokeDash":{"field":"s","type":"nominal","scale":{"domain":["source","cGLM","iGLM"],"range":[[1,0],[1,0],[7,3]]},"legend":null}}},
    {"data":{"name":"cut"},"transform":[{"filter":"datum.b==='L'"}],"mark":{"type":"rule","color":"#333333","strokeWidth":1.5,"strokeDash":[5,3]},"encoding":{"x":{"field":"c","type":"quantitative"}}}]},
   {"width":125,"height":154,"title":"222 TRs","layer":[
    {"transform":[{"filter":"datum.p==='c4'"}],"mark":{"type":"line","strokeWidth":2,"clip":true},"encoding":{
     "x":{"field":"f","type":"quantitative","scale":{"domain":[0,0.03],"nice":false},"axis":{"values":[0,0.01,0.02,0.03],"format":".2f","title":null}},
     "y":{"field":"v","type":"quantitative","scale":{"domain":[0.9,84.8],"nice":false,"zero":false},"axis":{"values":[25,50,75],"format":"d","title":null}},
     "color":{"field":"s","type":"nominal","scale":{"domain":["source","cGLM","iGLM"],"range":["#ff0000","#ff7f0e","#1f77b4"]},"legend":{"orient":"top-right","offset":7}},
     "strokeDash":{"field":"s","type":"nominal","scale":{"domain":["source","cGLM","iGLM"],"range":[[1,0],[1,0],[7,3]]},"legend":{"orient":"top-right","offset":7}}}},
    {"data":{"name":"cut"},"transform":[{"filter":"datum.b==='L'"}],"mark":{"type":"rule","color":"#333333","strokeWidth":1.5,"strokeDash":[5,3]},"encoding":{"x":{"field":"c","type":"quantitative"}}}]}
  ]},
 {"title":{"text":"DCT","anchor":"middle","fontSize":21,"offset":0,"dx":-8},"spacing":38,"bounds":"flush",
  "resolve":{"scale":{"color":"independent","strokeDash":"independent"}},
  "hconcat":[
   {"width":125,"height":154,"title":"100 TRs","layer":[
    {"transform":[{"filter":"datum.p==='d1'"}],"mark":{"type":"line","strokeWidth":2,"clip":true},"encoding":{
     "x":{"field":"f","type":"quantitative","scale":{"domain":[0,0.03],"nice":false},"axis":{"values":[0,0.01,0.02,0.03],"format":".2f","title":"Frequency (Hz)"}},
     "y":{"field":"v","type":"quantitative","scale":{"domain":[-0.4,25.2],"nice":false,"zero":false},"axis":{"values":[0,10,20],"format":"d","title":"Absolute power (a.u.)"}},
     "color":{"field":"s","type":"nominal","scale":{"domain":["source","cGLM","iGLM"],"range":["#ff0000","#ff7f0e","#1f77b4"]},"legend":null},
     "strokeDash":{"field":"s","type":"nominal","scale":{"domain":["source","cGLM","iGLM"],"range":[[1,0],[1,0],[7,3]]},"legend":null}}},
    {"data":{"name":"cut"},"transform":[{"filter":"datum.b==='D'"}],"mark":{"type":"rule","color":"#333333","strokeWidth":1.5,"strokeDash":[5,3]},"encoding":{"x":{"field":"c","type":"quantitative"}}}]},
   {"width":125,"height":154,"title":"150 TRs","layer":[
    {"transform":[{"filter":"datum.p==='d2'"}],"mark":{"type":"line","strokeWidth":2,"clip":true},"encoding":{
     "x":{"field":"f","type":"quantitative","scale":{"domain":[0,0.03],"nice":false},"axis":{"values":[0,0.01,0.02,0.03],"format":".2f","title":null}},
     "y":{"field":"v","type":"quantitative","scale":{"domain":[-1.3,45.3],"nice":false,"zero":false},"axis":{"values":[0,20,40],"format":"d","title":null}},
     "color":{"field":"s","type":"nominal","scale":{"domain":["source","cGLM","iGLM"],"range":["#ff0000","#ff7f0e","#1f77b4"]},"legend":null},
     "strokeDash":{"field":"s","type":"nominal","scale":{"domain":["source","cGLM","iGLM"],"range":[[1,0],[1,0],[7,3]]},"legend":null}}},
    {"data":{"name":"cut"},"transform":[{"filter":"datum.b==='D'"}],"mark":{"type":"rule","color":"#333333","strokeWidth":1.5,"strokeDash":[5,3]},"encoding":{"x":{"field":"c","type":"quantitative"}}}]},
   {"width":125,"height":154,"title":"200 TRs","layer":[
    {"transform":[{"filter":"datum.p==='d3'"}],"mark":{"type":"line","strokeWidth":2,"clip":true},"encoding":{
     "x":{"field":"f","type":"quantitative","scale":{"domain":[0,0.03],"nice":false},"axis":{"values":[0,0.01,0.02,0.03],"format":".2f","title":null}},
     "y":{"field":"v","type":"quantitative","scale":{"domain":[-2.6,71.5],"nice":false,"zero":false},"axis":{"values":[0,20,40,60],"format":"d","title":null}},
     "color":{"field":"s","type":"nominal","scale":{"domain":["source","cGLM","iGLM"],"range":["#ff0000","#ff7f0e","#1f77b4"]},"legend":null},
     "strokeDash":{"field":"s","type":"nominal","scale":{"domain":["source","cGLM","iGLM"],"range":[[1,0],[1,0],[7,3]]},"legend":null}}},
    {"data":{"name":"cut"},"transform":[{"filter":"datum.b==='D'"}],"mark":{"type":"rule","color":"#333333","strokeWidth":1.5,"strokeDash":[5,3]},"encoding":{"x":{"field":"c","type":"quantitative"}}}]},
   {"width":125,"height":154,"title":"222 TRs","layer":[
    {"transform":[{"filter":"datum.p==='d4'"}],"mark":{"type":"line","strokeWidth":2,"clip":true},"encoding":{
     "x":{"field":"f","type":"quantitative","scale":{"domain":[0,0.03],"nice":false},"axis":{"values":[0,0.01,0.02,0.03],"format":".2f","title":null}},
     "y":{"field":"v","type":"quantitative","scale":{"domain":[-2.7,84.9],"nice":false,"zero":false},"axis":{"values":[0,25,50,75],"format":"d","title":null}},
     "color":{"field":"s","type":"nominal","scale":{"domain":["source","cGLM","iGLM"],"range":["#ff0000","#ff7f0e","#1f77b4"]},"legend":null},
     "strokeDash":{"field":"s","type":"nominal","scale":{"domain":["source","cGLM","iGLM"],"range":[[1,0],[1,0],[7,3]]},"legend":null}}},
    {"data":{"name":"cut"},"transform":[{"filter":"datum.b==='D'"}],"mark":{"type":"rule","color":"#333333","strokeWidth":1.5,"strokeDash":[5,3]},"encoding":{"x":{"field":"c","type":"quantitative"}}}]}
  ]}
 ]}
],
"config":{
 "font":"Liberation Sans",
 "view":{"stroke":"#ebebeb","strokeWidth":1},
 "axis":{"grid":false,"domainColor":"#333333","domainWidth":1.2,"tickColor":"#333333","tickWidth":1.2,"tickSize":5,"labelColor":"#262626","labelFontSize":15,"labelPadding":2,"labelFlush":false,"labelOverlap":false,"titleColor":"#262626","titleFontSize":15,"titleFontWeight":"normal"},
 "axisX":{"titlePadding":3,"labelPadding":3},
 "axisY":{"titlePadding":9},
 "title":{"fontSize":15,"fontWeight":"normal","color":"#262626","offset":6},
 "style":{"group-title":{"fontWeight":"normal","fontSize":15,"color":"#262626"}},
 "legend":{"title":null,"symbolType":"stroke","symbolSize":700,"symbolStrokeWidth":2,"clipHeight":16,"labelFontSize":15,"labelColor":"#262626","strokeColor":"#d6d6d6","fillColor":"#ffffff","cornerRadius":3,"padding":5,"rowPadding":2,"labelOffset":6}
}
}
